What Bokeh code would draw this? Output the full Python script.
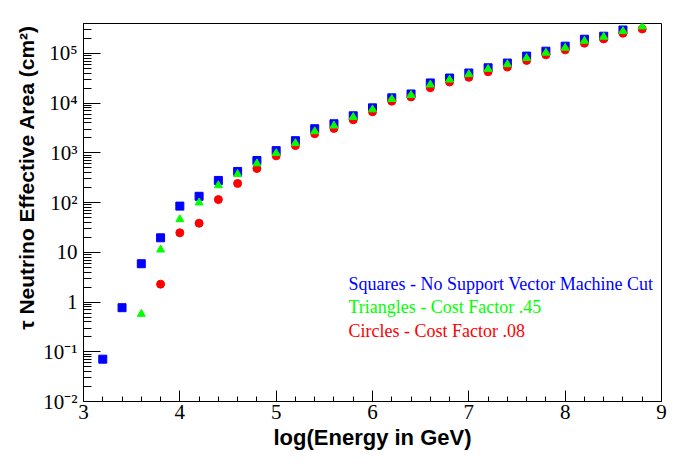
import numpy as np
from bokeh.plotting import figure
from bokeh.models import FixedTicker, Range1d, Label
from bokeh.embed import file_html
from bokeh.resources import INLINE

# log10(Energy / GeV)
x_squares = [3.2, 3.4, 3.6, 3.8, 4.0, 4.2, 4.4, 4.6, 4.8, 5.0, 5.2, 5.4, 5.6, 5.8,
             6.0, 6.2, 6.4, 6.6, 6.8, 7.0, 7.2, 7.4, 7.6, 7.8, 8.0, 8.2, 8.4, 8.6]
y_squares = [0.071, 0.77, 5.9, 19.6, 85, 134, 279, 423, 702, 1110, 1760, 3060, 3850, 5570,
             8050, 12800, 15300, 25500, 32000, 40400, 51500, 64000, 88300, 111000, 140000,
             193000, 222000, 296000]

x_triangles = [3.6, 3.8, 4.0, 4.2, 4.4, 4.6, 4.8, 5.0, 5.2, 5.4, 5.6, 5.8, 6.0, 6.2,
               6.4, 6.6, 6.8, 7.0, 7.2, 7.4, 7.6, 7.8, 8.0, 8.2, 8.4, 8.6, 8.8]
y_triangles = [0.575, 11.3, 46, 100, 222, 373, 611, 982, 1560, 2700, 3520, 5250, 7450, 12000,
               14450, 23550, 29650, 38000, 48500, 60300, 80500, 102800, 129400, 178600,
               214800, 279000, 347000]

x_circles = [3.8, 4.0, 4.2, 4.4, 4.6, 4.8, 5.0, 5.2, 5.4, 5.6, 5.8, 6.0, 6.2, 6.4,
             6.6, 6.8, 7.0, 7.2, 7.4, 7.6, 7.8, 8.0, 8.2, 8.4, 8.6, 8.8]
y_circles = [2.29, 24.7, 38.5, 115, 243, 485, 871, 1400, 2430, 3100, 4630, 6700, 10960, 13370,
             20500, 26670, 33100, 42850, 53200, 72400, 93800, 118000, 160700, 195900,
             254700, 310500]

x_ticks = [3, 4, 5, 6, 7, 8, 9]
y_exponents = [-2, -1, 0, 1, 2, 3, 4, 5]
y_tick_labels = ["10\u207b\u00b2", "10\u207b\u00b9", "1", "10", "10\u00b2", "10\u00b3", "10\u2074", "10\u2075"]

legend_texts = ["Squares - No Support Vector Machine Cut",
                "Triangles - Cost Factor .45",
                "Circles - Cost Factor .08"]
legend_colors = ["#0000ff", "#00ff00", "#ff0000"]

p = figure(frame_width=578, frame_height=378, y_axis_type="log",
           x_range=Range1d(3, 9), y_range=Range1d(0.01, 4e5),
           output_backend="svg", toolbar_location=None,
           min_border_left=83, min_border_right=27, min_border_top=23, min_border_bottom=63)

p.xgrid.visible = False
p.ygrid.visible = False
p.outline_line_color = "black"
p.outline_line_width = 1
p.background_fill_color = "white"
p.border_fill_color = "white"

# x axis
x_minor = [round(a + b * 0.2, 1) for a in x_ticks[:-1] for b in range(1, 5)]
p.xaxis.ticker = FixedTicker(ticks=x_ticks, minor_ticks=x_minor)
p.xaxis.major_tick_in = 11
p.xaxis.major_tick_out = 0
p.xaxis.minor_tick_in = 5
p.xaxis.minor_tick_out = 0
p.xaxis.major_label_text_font = "Liberation Serif"
p.xaxis.major_label_text_font_size = "21px"
p.xaxis.major_label_standoff = 3
p.xaxis.axis_label = "log(Energy in GeV)"
p.xaxis.axis_label_text_font = "Liberation Sans"
p.xaxis.axis_label_text_font_style = "bold"
p.xaxis.axis_label_text_font_size = "22px"
p.xaxis.axis_label_standoff = 3

# y axis
y_major = [10.0 ** e for e in y_exponents]
y_minor = [m * 10.0 ** e for e in y_exponents for m in range(2, 10)]
p.yaxis.ticker = FixedTicker(ticks=y_major, minor_ticks=y_minor)
p.yaxis.major_label_overrides = {t: lab for t, lab in zip(y_major, y_tick_labels)}
p.yaxis.major_tick_in = 17
p.yaxis.major_tick_out = 0
p.yaxis.minor_tick_in = 8
p.yaxis.minor_tick_out = 0
p.yaxis.major_label_text_font = "Liberation Serif"
p.yaxis.major_label_text_font_size = "21px"
p.yaxis.major_label_standoff = 6
p.yaxis.axis_label = "\u00a0" * 12 + "\u03c4 Neutrino Effective Area (cm\u00b2)"
p.yaxis.axis_label_text_font = "Liberation Sans"
p.yaxis.axis_label_text_font_style = "bold"
p.yaxis.axis_label_text_font_size = "21px"
p.yaxis.axis_label_standoff = 2

for ax in (p.xaxis, p.yaxis):
    ax.axis_line_color = "black"
    ax.major_tick_line_color = "black"
    ax.minor_tick_line_color = "black"
    ax.major_label_text_color = "black"
    ax.axis_label_text_color = "black"

p.scatter(x_squares, y_squares, marker="square", size=8, fill_color="#0000ff", line_color="#0000ff")
p.scatter(x_circles, y_circles, marker="circle", size=8, fill_color="#ff0000", line_color="#ff0000")
p.scatter(x_triangles, y_triangles, marker="triangle", size=8, fill_color="#00ff00", line_color="#00ff00")

for i, (txt, col) in enumerate(zip(legend_texts, legend_colors)):
    p.add_layout(Label(x=265, y=118 - i * 23.5, x_units="screen", y_units="screen", text=txt,
                       text_color=col, text_font="Liberation Serif", text_font_size="18px",
                       text_baseline="alphabetic"))

open("out.html", "w").write(file_html(p, INLINE))
